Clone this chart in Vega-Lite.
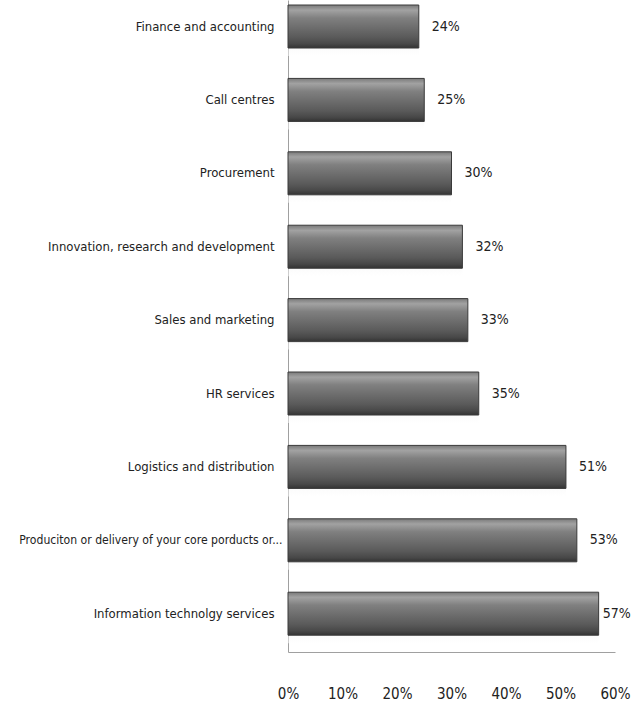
{
  "$schema": "https://vega.github.io/schema/vega-lite/v6.json",
  "autosize": {"type": "none"},
  "padding": {"left": 288, "top": 0, "right": 16, "bottom": 66},
  "width": 327,
  "height": 652,
  "background": "white",
  "config": {
    "view": {"stroke": null},
    "font": "DejaVu Sans Condensed",
    "axis": {"labelFont": "DejaVu Sans Condensed", "labelColor": "#222", "grid": false, "ticks": false, "domainColor": "#a0a0a0", "domainWidth": 1}
  },
  "data": {
    "values": [
      {"category": "Finance and accounting", "value": 0.24},
      {"category": "Call centres", "value": 0.25},
      {"category": "Procurement", "value": 0.30},
      {"category": "Innovation, research and development", "value": 0.32},
      {"category": "Sales and marketing", "value": 0.33},
      {"category": "HR services", "value": 0.35},
      {"category": "Logistics and distribution", "value": 0.51},
      {"category": "Produciton or delivery of your core porducts or...", "value": 0.53},
      {"category": "Information technolgy services", "value": 0.57}
    ]
  },
  "encoding": {
    "y": {
      "field": "category", "type": "nominal", "sort": null, "title": null,
      "scale": {"paddingInner": 0.414, "paddingOuter": 0.1485, "align": 0.23},
      "axis": {
        "labelFontSize": {"condition": {"test": "length(datum.label) > 40", "value": 12.1}, "value": 13},
        "labelPadding": {"condition": {"test": "length(datum.label) > 40", "value": 6}, "value": 14},
        "labelLimit": 300, "domain": true}
    },
    "x": {
      "field": "value", "type": "quantitative", "title": null,
      "scale": {"domain": [0, 0.6], "nice": false},
      "axis": {"format": ".0%", "values": [0, 0.1, 0.2, 0.3, 0.4, 0.5, 0.6], "labelFontSize": 15, "labelPadding": 34, "labelFlush": false}
    }
  },
  "layer": [
    {
      "mark": {"type": "bar", "yOffset": 8, "opacity": 0.5,
        "color": {"gradient": "linear", "x1": 0, "y1": 0, "x2": 0, "y2": 1,
          "stops": [{"offset": 0, "color": "#c8c8c8"}, {"offset": 0.6, "color": "#eeeeee"}, {"offset": 1, "color": "#ffffff"}]}}
    },
    {
      "mark": {"type": "bar", "stroke": "#3a3a3a", "strokeWidth": 1,
        "color": {"gradient": "linear", "x1": 0, "y1": 0, "x2": 0, "y2": 1,
          "stops": [
            {"offset": 0, "color": "#7a7a7a"},
            {"offset": 0.12, "color": "#a2a2a2"},
            {"offset": 0.3, "color": "#808080"},
            {"offset": 0.75, "color": "#5a5a5a"},
            {"offset": 0.9, "color": "#484848"},
            {"offset": 1, "color": "#333333"}
          ]}}
    },
    {
      "mark": {"type": "text", "align": "left", "dx": {"expr": "datum.value > 0.55 ? 4 : 13"}, "fontSize": 14, "color": "#222", "font": "DejaVu Sans Condensed"},
      "encoding": {"text": {"field": "value", "type": "quantitative", "format": ".0%"}}
    }
  ]
}
